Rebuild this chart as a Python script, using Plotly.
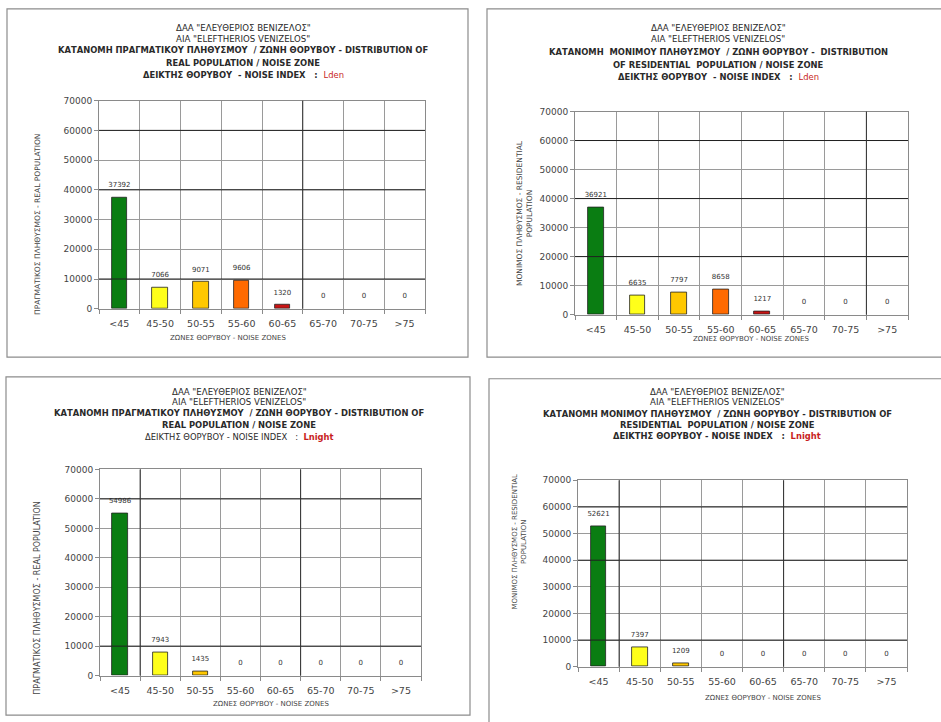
import plotly.graph_objects as go

W, H = 941, 722

# Noise zones (dB) and populations per zone
zones = ["<45", "45-50", "50-55", "55-60", "60-65", "65-70", "70-75", ">75"]
real_lden = [37392, 7066, 9071, 9606, 1320, 0, 0, 0]
resident_lden = [36921, 6635, 7797, 8658, 1217, 0, 0, 0]
real_lnight = [54986, 7943, 1435, 0, 0, 0, 0, 0]
resident_lnight = [52621, 7397, 1209, 0, 0, 0, 0, 0]

zone_colors = ["#0a7d12", "#ffff1a", "#ffc800", "#ff6a00", "#c81414",
               "#8b0000", "#6a1b9a", "#1f3fbf"]

FONT = "DejaVu Sans"
RED = "#c81e1e"


def px(x):
    return x / W


def py(y):
    return 1 - y / H


# panel geometry in pixels: plot area (left, right, top, bottom), frame box
panels = [
    dict(data=real_lden, plot=(99, 425, 97, 308), box=(7, 468, 4, 357),
         cx=243, ty=[23, 34, 46, 59, 71],
         lines=['ΔΑΑ "ΕΛΕΥΘΕΡΙΟΣ ΒΕΝΙΖΕΛΟΣ"', 'ΑΙΑ "ELEFTHERIOS VENIZELOS"',
                '<b>ΚΑΤΑΝΟΜΗ ΠΡΑΓΜΑΤΙΚΟΥ ΠΛΗΘΥΣΜΟΥ  / ΖΩΝΗ ΘΟΡΥΒΟΥ - DISTRIBUTION OF</b>',
                '<b>REAL POPULATION / NOISE ZONE</b>',
                '<b>ΔΕΙΚΤΗΣ ΘΟΡΥΒΟΥ  - NOISE INDEX   :  </b><span style="color:%s">Lden</span>' % RED],
         ytitle="ΠΡΑΓΜΑΤΙΚΟΣ ΠΛΗΘΥΣΜΟΣ - REAL POPULATION", yt=(38, 223), ytsize=7.5,
         xtitle="ΖΩΝΕΣ ΘΟΡΥΒΟΥ - NOISE ZONES", xt=(228, 338),
         dark_h=[10000, 40000, 60000], dark_v=[4.5]),
    dict(data=resident_lden, plot=(575, 908, 108, 314), box=(487, 945, 4, 357),
         cx=718, ty=[23, 34, 48, 61, 73],
         lines=['ΔΑΑ "ΕΛΕΥΘΕΡΙΟΣ ΒΕΝΙΖΕΛΟΣ"', 'ΑΙΑ "ELEFTHERIOS VENIZELOS"',
                '<b>ΚΑΤΑΝΟΜΗ  ΜΟΝΙΜΟΥ ΠΛΗΘΥΣΜΟΥ  / ΖΩΝΗ ΘΟΡΥΒΟΥ -  DISTRIBUTION</b>',
                '<b>OF RESIDENTIAL  POPULATION / NOISE ZONE</b>',
                '<b>ΔΕΙΚΤΗΣ ΘΟΡΥΒΟΥ  - NOISE INDEX   :  </b><span style="color:%s">Lden</span>' % RED],
         ytitle="ΜΟΝΙΜΟΣ ΠΛΗΘΥΣΜΟΣ - RESIDENTIAL<br>POPULATION", yt=(524, 211), ytsize=7.5,
         xtitle="ΖΩΝΕΣ ΘΟΡΥΒΟΥ - NOISE ZONES", xt=(751, 339),
         dark_h=[20000, 40000, 60000], dark_v=[6.5]),
    dict(data=real_lnight, plot=(100, 421, 471, 680), box=(6, 470, 377, 720),
         cx=239, ty=[392, 403, 414, 426, 438],
         lines=['ΔΑΑ "ΕΛΕΥΘΕΡΙΟΣ ΒΕΝΙΖΕΛΟΣ"', 'ΑΙΑ "ELEFTHERIOS VENIZELOS"',
                '<b>ΚΑΤΑΝΟΜΗ ΠΡΑΓΜΑΤΙΚΟΥ ΠΛΗΘΥΣΜΟΥ  / ΖΩΝΗ ΘΟΡΥΒΟΥ - DISTRIBUTION OF</b>',
                '<b>REAL POPULATION / NOISE ZONE</b>',
                'ΔΕΙΚΤΗΣ ΘΟΡΥΒΟΥ - NOISE INDEX   :  <b><span style="color:%s">Lnight</span></b>' % RED],
         ytitle="ΠΡΑΓΜΑΤΙΚΟΣ ΠΛΗΘΥΣΜΟΣ - REAL POPULATION", yt=(38, 602), ytsize=8,
         xtitle="ΖΩΝΕΣ ΘΟΡΥΒΟΥ - NOISE ZONES", xt=(271, 709),
         dark_h=[10000, 60000], dark_v=[0.5, 4.5]),
    dict(data=resident_lnight, plot=(578, 907, 482, 671), box=(489, 945, 379, 730),
         cx=717, ty=[392, 403, 415, 426, 437],
         lines=['ΔΑΑ "ΕΛΕΥΘΕΡΙΟΣ ΒΕΝΙΖΕΛΟΣ"', 'ΑΙΑ "ELEFTHERIOS VENIZELOS"',
                '<b>ΚΑΤΑΝΟΜΗ ΜΟΝΙΜΟΥ ΠΛΗΘΥΣΜΟΥ  / ΖΩΝΗ ΘΟΡΥΒΟΥ - DISTRIBUTION OF</b>',
                '<b>RESIDENTIAL  POPULATION / NOISE ZONE</b>',
                '<b>ΔΕΙΚΤΗΣ ΘΟΡΥΒΟΥ - NOISE INDEX   :  </b><b><span style="color:%s">Lnight</span></b>' % RED],
         ytitle="ΜΟΝΙΜΟΣ ΠΛΗΘΥΣΜΟΣ - RESIDENTIAL<br>POPULATION", yt=(519, 545), ytsize=7,
         xtitle="ΖΩΝΕΣ ΘΟΡΥΒΟΥ - NOISE ZONES", xt=(763, 703),
         dark_h=[10000, 40000, 60000], dark_v=[0.5, 4.5]),
]

fig = go.Figure()
annotations = []
shapes = []
positions = list(range(len(zones)))

for i, p in enumerate(panels, start=1):
    sfx = "" if i == 1 else str(i)
    xa, ya = "x" + sfx, "y" + sfx
    l, r, t, b = p["plot"]

    fig.add_trace(go.Bar(
        x=positions, y=p["data"], xaxis=xa, yaxis=ya, width=0.38,
        marker=dict(color=zone_colors,
                    line=dict(color="#222222",
                              width=[0.8 if v > 0 else 0 for v in p["data"]])),
        showlegend=False, hoverinfo="x+y",
    ))
    # value labels above each bar (invisible markers give the gap)
    fig.add_trace(go.Scatter(
        x=positions, y=p["data"], xaxis=xa, yaxis=ya, mode="markers+text",
        marker=dict(size=12, color="rgba(0,0,0,0)"),
        text=[str(v) for v in p["data"]], textposition="top center",
        textfont=dict(family=FONT, size=7, color="#333333"),
        cliponaxis=False, showlegend=False, hoverinfo="skip",
    ))

    fig.layout["xaxis" + sfx] = dict(
        domain=[px(l), px(r)], anchor=ya, range=[-0.5, 7.5],
        tickmode="array", tickvals=positions, ticktext=zones,
        showgrid=False, ticks="", ticklabelstandoff=6,
        tickfont=dict(family=FONT, size=9.5, color="#444444"),
        showline=True, linecolor="#8a8a8a", linewidth=1, mirror=True,
        minor=dict(tick0=0.5, dtick=1, showgrid=True, gridcolor="#9a9a9a",
                   gridwidth=1, ticks="outside", ticklen=4, tickcolor="#8a8a8a"),
        zeroline=False, fixedrange=True,
    )
    fig.layout["yaxis" + sfx] = dict(
        domain=[py(b), py(t)], anchor=xa, range=[0, 70000],
        tickmode="linear", tick0=0, dtick=10000, tickformat="d",
        showgrid=True, gridcolor="#9a9a9a", gridwidth=1,
        ticks="outside", ticklen=4, tickcolor="#8a8a8a",
        tickfont=dict(family=FONT, size=9, color="#444444"),
        showline=True, linecolor="#8a8a8a", linewidth=1, mirror=True,
        zeroline=False, fixedrange=True,
    )

    # heavier grid lines
    for v in p["dark_h"]:
        shapes.append(dict(type="line", xref=xa + " domain", yref=ya,
                           x0=0, x1=1, y0=v, y1=v,
                           line=dict(color="#202020", width=1)))
    for v in p["dark_v"]:
        shapes.append(dict(type="line", xref=xa, yref=ya + " domain",
                           x0=v, x1=v, y0=0, y1=1,
                           line=dict(color="#303030", width=1)))

    # frame around each chart
    bl, br, bt, bb = p["box"]
    shapes.append(dict(type="rect", xref="paper", yref="paper",
                       x0=px(bl), x1=px(br), y0=py(bb), y1=py(bt),
                       line=dict(color="#8c8c8c", width=1.2)))

    # heading lines
    for k, (line, y) in enumerate(zip(p["lines"], p["ty"])):
        annotations.append(dict(
            text=line, x=px(p["cx"]), y=py(y), xref="paper", yref="paper",
            xanchor="center", yanchor="middle", showarrow=False,
            font=dict(family=FONT, size=8.4 if k >= 2 else 8.6, color="#2a2a2a"),
        ))

    # axis titles
    annotations.append(dict(
        text=p["ytitle"], x=px(p["yt"][0]), y=py(p["yt"][1]),
        xref="paper", yref="paper", xanchor="center", yanchor="middle",
        textangle=-90, showarrow=False,
        font=dict(family=FONT, size=p["ytsize"], color="#444444"),
    ))
    annotations.append(dict(
        text=p["xtitle"], x=px(p["xt"][0]), y=py(p["xt"][1]),
        xref="paper", yref="paper", xanchor="center", yanchor="middle",
        showarrow=False, font=dict(family=FONT, size=7, color="#444444"),
    ))

fig.update_layout(
    width=W, height=H, margin=dict(l=0, r=0, t=0, b=0),
    paper_bgcolor="white", plot_bgcolor="white",
    annotations=annotations, shapes=shapes, bargap=0,
    font=dict(family=FONT),
)

fig.write_html("out.html")
